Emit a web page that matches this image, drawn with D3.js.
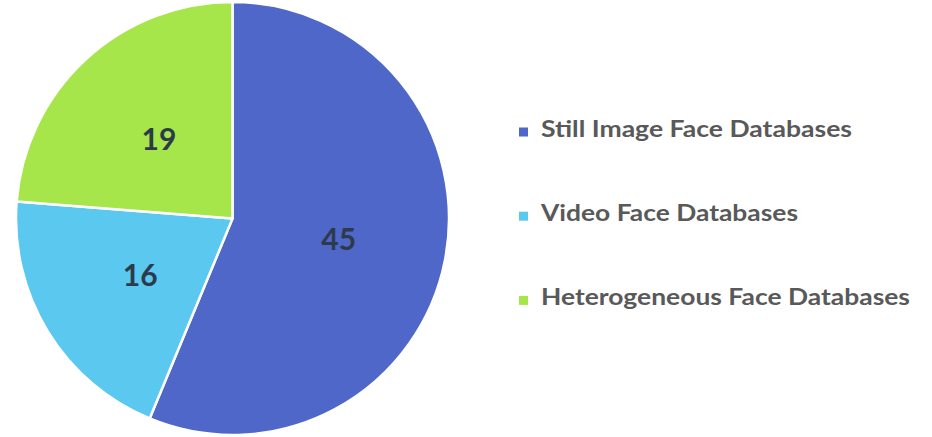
<!DOCTYPE html>
<html>
<head>
<meta charset="utf-8">
<script src="https://cdn.jsdelivr.net/npm/d3@7"></script>
<style>
  html, body { margin: 0; padding: 0; background: #ffffff; }
  svg { display: block; }
</style>
</head>
<body>
<svg id="chart" width="932" height="437"></svg>
<script>
// Number of face databases by type
const categories = ["Still Image Face Databases", "Video Face Databases", "Heterogeneous Face Databases"];
const counts = [45, 16, 19];
const colors = ["#4F67C9", "#5BC8F0", "#A6E64A"];
// Legend label widths (px) so the entries line up with the pie's proportions
const legendWidths = [311, 257, 369];

const svg = d3.select("#chart");
const cx = 232.5, cy = 218.5, radius = 216.5;
const font = "Lato, 'Open Sans', sans-serif";

const data = categories.map((c, i) => ({ name: c, value: counts[i], color: colors[i], w: legendWidths[i] }));

const pie = d3.pie().value(d => d.value).sort(null);
const arcs = pie(data);
const arc = d3.arc().innerRadius(0).outerRadius(radius);
const labelArc = d3.arc().innerRadius(radius * 0.5).outerRadius(radius * 0.5);

const g = svg.append("g").attr("transform", `translate(${cx},${cy})`);

g.selectAll("path.slice")
  .data(arcs)
  .join("path")
  .attr("class", "slice")
  .attr("d", arc)
  .attr("fill", d => d.data.color)
  .attr("stroke", "#ffffff")
  .attr("stroke-width", 2.5)
  .attr("stroke-linejoin", "round");

g.selectAll("text.value")
  .data(arcs)
  .join("text")
  .attr("class", "value")
  .attr("transform", d => `translate(${labelArc.centroid(d)})`)
  .attr("text-anchor", "middle")
  .attr("dy", "0.36em")
  .attr("font-family", font)
  .attr("font-weight", 700)
  .attr("font-size", 30)
  .attr("fill", "#2D3A4B")
  .text(d => d.data.value);

// Legend
const legendX = 519, legendY0 = 132, legendStep = 84.2;
const legend = svg.append("g");
const items = legend.selectAll("g.item")
  .data(data)
  .join("g")
  .attr("class", "item")
  .attr("transform", (d, i) => `translate(${legendX},${legendY0 + i * legendStep})`);

items.append("rect")
  .attr("x", 0).attr("y", -4.5)
  .attr("width", 9).attr("height", 9)
  .attr("fill", d => d.color);

items.append("text")
  .attr("x", 22)
  .attr("y", 5)
  .attr("font-family", font)
  .attr("font-weight", 700)
  .attr("font-size", 22)
  .attr("fill", "#595959")
  .attr("textLength", d => d.w)
  .attr("lengthAdjust", "spacingAndGlyphs")
  .text(d => d.name);
</script>
</body>
</html>
